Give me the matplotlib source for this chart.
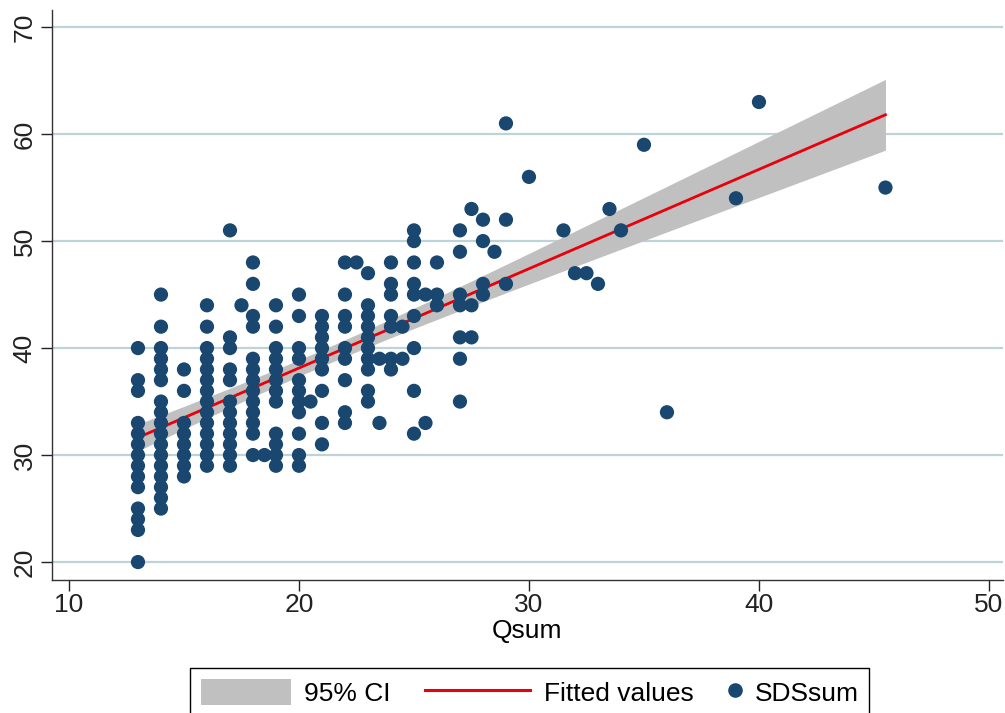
import numpy as np
import matplotlib
matplotlib.use("Agg")
import matplotlib.pyplot as plt
from matplotlib.patches import Patch
from matplotlib.lines import Line2D
from matplotlib.legend_handler import HandlerBase, HandlerPatch, HandlerLine2D

plt.rcParams['font.family'] = ['Liberation Sans', 'DejaVu Sans']

# SDSsum values, grouped by Qsum
columns = {
    13: [40, 37, 36, 33, 32, 31, 30, 29, 28, 27, 25, 24, 23, 20],
    14: [45, 42, 40, 39, 38, 37, 35, 34, 33, 32, 31, 30, 29, 28, 27, 26, 25],
    15: [38, 36, 33, 32, 31, 30, 29, 28],
    16: [44, 42, 40, 39, 38, 37, 36, 35, 34, 33, 32, 31, 30, 29],
    17: [51, 41, 40, 38, 37, 35, 34, 33, 32, 31, 30, 29],
    17.5: [44],
    18: [48, 46, 43, 42, 39, 38, 37, 36, 35, 34, 33, 32, 30],
    18.5: [30],
    19: [44, 42, 40, 39, 38, 37, 36, 35, 32, 31, 30, 29],
    20: [45, 43, 40, 39, 37, 36, 35, 34, 32, 30, 29],
    20.5: [35],
    21: [43, 42, 41, 40, 39, 38, 36, 33, 31],
    22: [48, 45, 43, 42, 40, 39, 37, 34, 33],
    22.5: [48],
    23: [47, 44, 43, 42, 41, 40, 39, 38, 36, 35],
    23.5: [39, 33],
    24: [48, 46, 45, 43, 42, 39, 38],
    24.5: [42, 39],
    25: [51, 50, 48, 46, 45, 43, 40, 36, 32],
    25.5: [45, 33],
    26: [48, 45, 44],
    27: [51, 49, 45, 44, 41, 39, 35],
    27.5: [53, 44, 41],
    28: [52, 50, 46, 45],
    28.5: [49],
    29: [61, 52, 46],
    30: [56],
    31.5: [51],
    32: [47],
    32.5: [47],
    33: [46],
    33.5: [53],
    34: [51],
    35: [59],
    36: [34],
    39: [54],
    40: [63],
    45.5: [55],
}

qsum = np.array([q for q, vals in columns.items() for _ in vals], dtype=float)
sdssum = np.array([v for vals in columns.values() for v in vals], dtype=float)

# linear fit with 95% CI of the mean prediction
n = len(qsum)
b, a = np.polyfit(qsum, sdssum, 1)
resid = sdssum - (a + b * qsum)
s = np.sqrt(np.sum(resid ** 2) / (n - 2))
xbar = qsum.mean()
sxx = np.sum((qsum - xbar) ** 2)
xf = np.linspace(qsum.min(), qsum.max(), 100)
yf = a + b * xf
se = s * np.sqrt(1.0 / n + (xf - xbar) ** 2 / sxx)
t = 1.97

navy = '#1a476f'
grid_c = '#bed3d8'
red = '#e8000b'
ci_gray = '#c0c0c0'


class Sized(HandlerBase):
    # lets each legend key have its own width (in points)
    def __init__(self, base, width):
        super().__init__()
        self.base = base
        self.width = width

    def legend_artist(self, legend, orig_handle, fontsize, handlebox):
        handlebox.width = self.width
        return self.base.legend_artist(legend, orig_handle, fontsize, handlebox)


fig = plt.figure(figsize=(10.05, 7.13), dpi=100)
ax = fig.add_axes([0.0517, 0.1865, 0.9463, 0.7995])

for yv in range(20, 71, 10):
    ax.axhline(yv, color=grid_c, lw=1.6, zorder=0)

ax.fill_between(xf, yf - t * se, yf + t * se, color=ci_gray, lw=0, zorder=1)
ax.plot(xf, yf, color=red, lw=2, zorder=2)
ax.scatter(qsum, sdssum, s=105, color=navy, edgecolors='none', zorder=3)

ax.set_xlim(9.26, 50.61)
ax.set_ylim(18.32, 71.6)
ax.set_xticks([10, 20, 30, 40, 50])
ax.set_yticks([20, 30, 40, 50, 60, 70])
ax.tick_params(axis='both', direction='out', length=8, width=1, labelsize=19, colors='#222222')
ax.tick_params(axis='x', pad=1)
ax.tick_params(axis='y', pad=3)
for lab in ax.get_yticklabels():
    lab.set_rotation(90)
    lab.set_va('center')
ax.set_xlabel('Qsum', fontsize=19, labelpad=2)

for side in ['top', 'right']:
    ax.spines[side].set_visible(False)
for side in ['left', 'bottom']:
    ax.spines[side].set_color('#333333')
    ax.spines[side].set_linewidth(1)

h_ci = Patch(facecolor=ci_gray, edgecolor='none')
h_fit = Line2D([], [], color=red, lw=2.2)
h_pts = Line2D([], [], ls='none', marker='o', markersize=9.5, color=navy)
fig.legend([h_ci, h_fit, h_pts], ['95% CI', 'Fitted values', 'SDSsum'],
           handler_map={h_ci: Sized(HandlerPatch(), 65),
                        h_fit: Sized(HandlerLine2D(), 76),
                        h_pts: Sized(HandlerLine2D(numpoints=1), 10)},
           loc='upper center', bbox_to_anchor=(0.527, 1 - 668 / 713), ncol=3,
           fontsize=19, frameon=True, fancybox=False, edgecolor='black',
           framealpha=1, handleheight=1.15, handletextpad=0.5,
           columnspacing=1.3, borderpad=0.4, borderaxespad=0)

fig.savefig('out.png', dpi=100)
